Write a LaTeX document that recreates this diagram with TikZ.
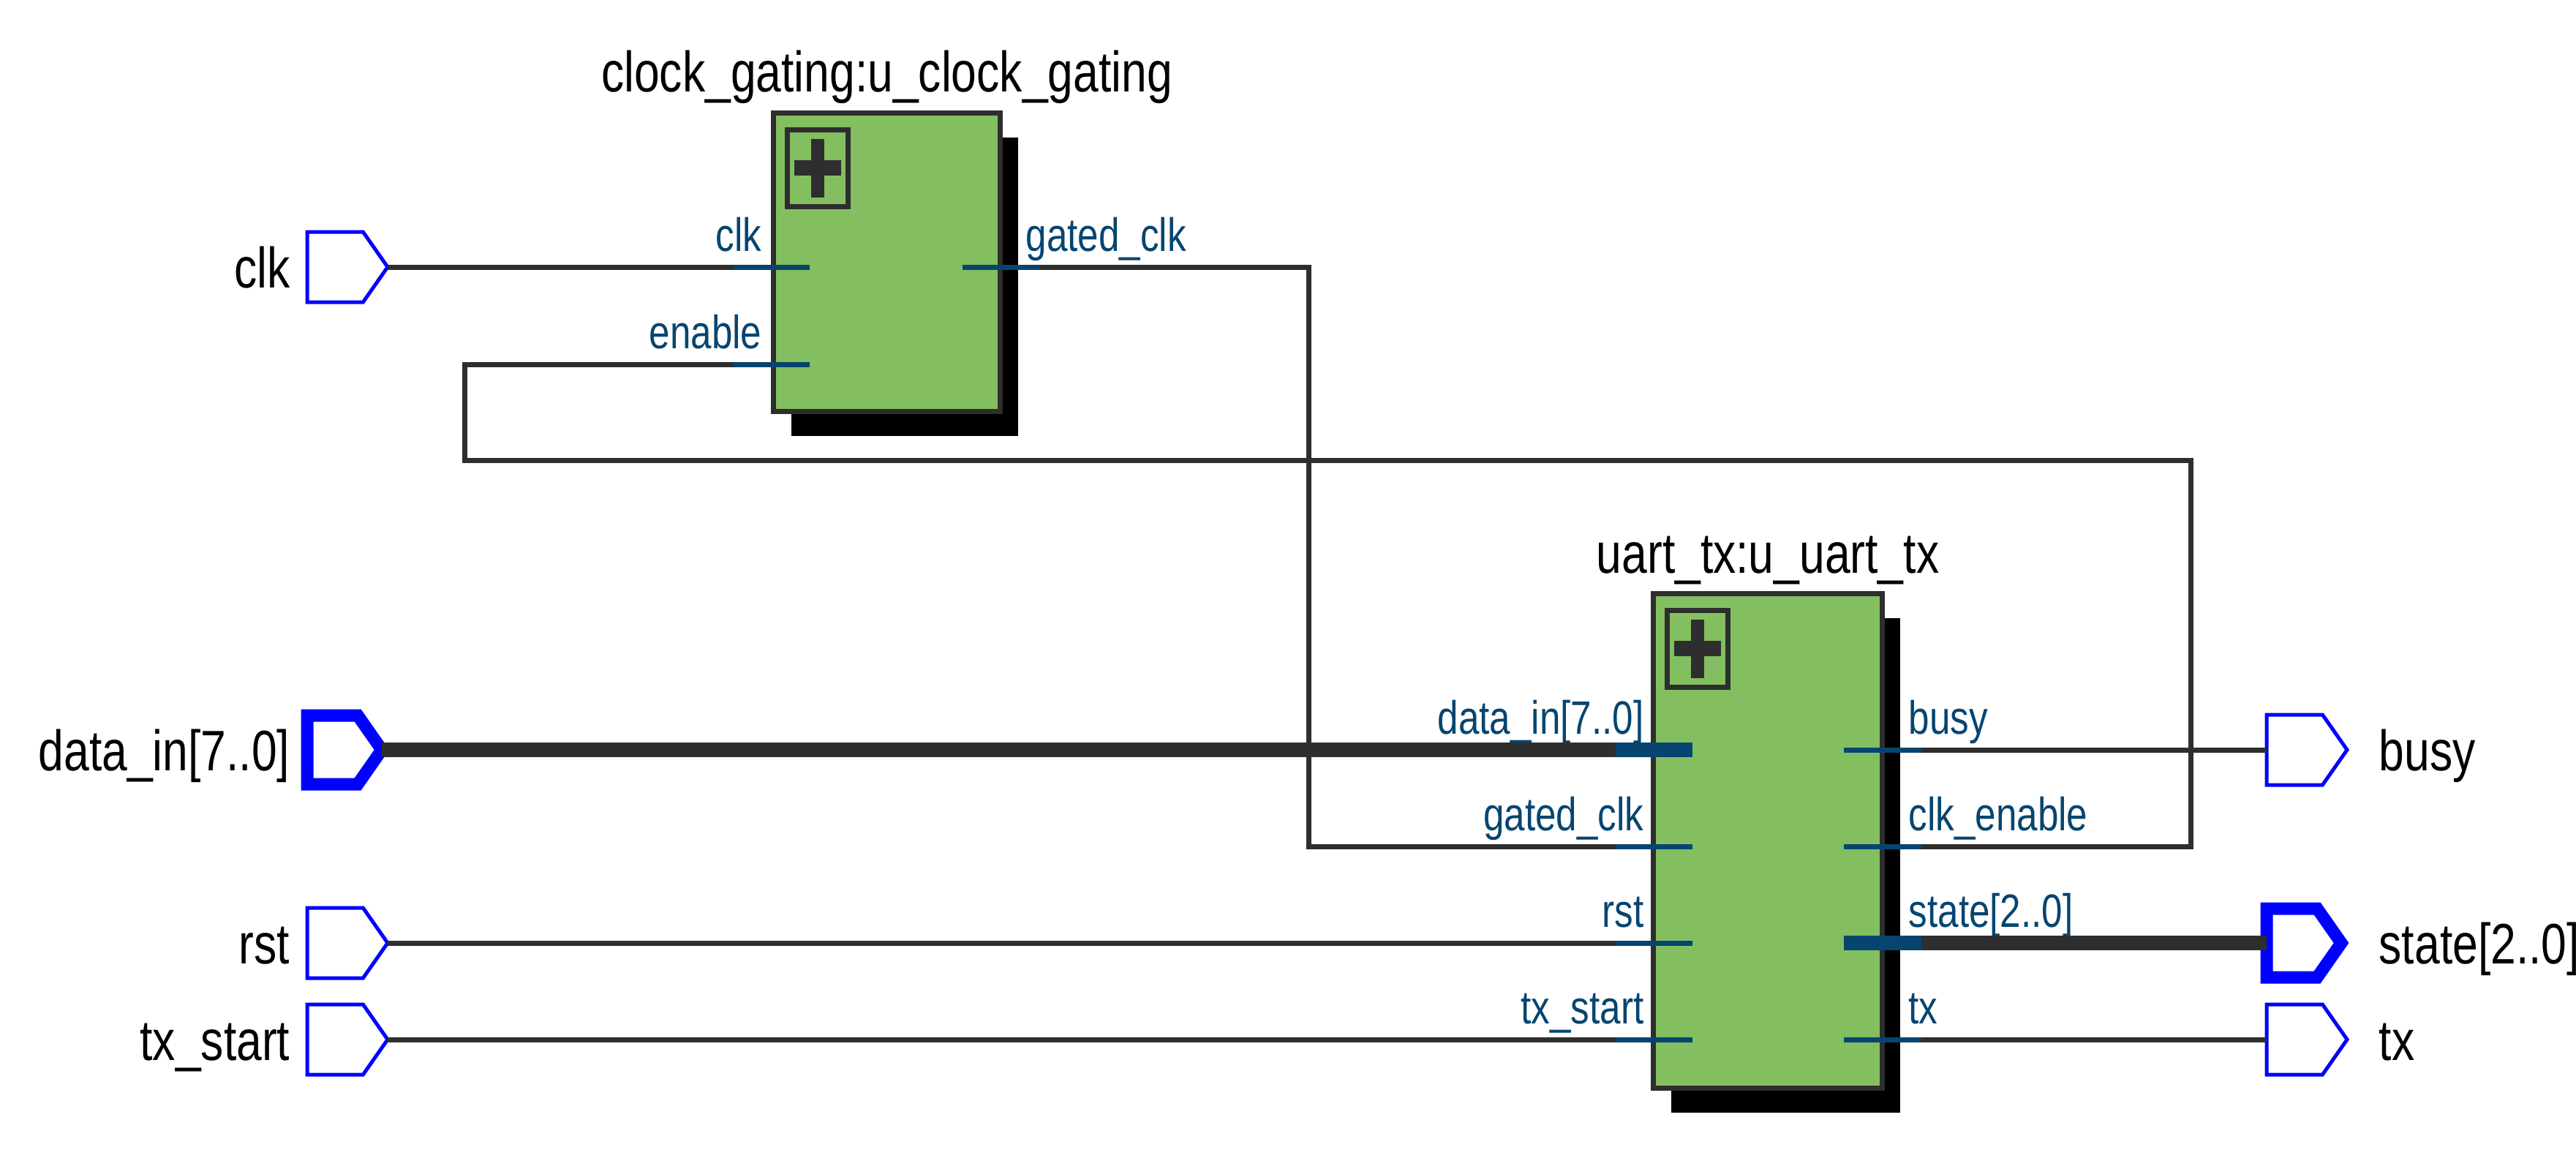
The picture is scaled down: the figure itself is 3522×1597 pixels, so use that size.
\documentclass[tikz,border=0pt]{standalone}
\usepackage{fontspec}
\setmainfont{Liberation Sans}[FakeStretch=0.8]
\usetikzlibrary{shapes.symbols,shadows}

\definecolor{modgreen}{RGB}{131,191,96}
\definecolor{wiregray}{RGB}{46,46,46}
\definecolor{portblue}{RGB}{6,69,112}
\definecolor{pinblue}{RGB}{0,0,255}

\newcommand{\portfont}{\fontsize{18.2}{20}\selectfont}
\newcommand{\pinfont}{\fontsize{22.2}{24}\selectfont}

\tikzset{
  module/.style={draw=wiregray, fill=modgreen, line width=0.7mm, inner sep=0pt,
    drop shadow={shadow xshift=2.4mm, shadow yshift=-3.3mm, fill=black, opacity=1}},
  hier/.style={draw=wiregray, line width=0.7mm, minimum width=8.3mm, minimum height=10.5mm,
    inner sep=0pt, anchor=north west},
  iopin/.style={signal, signal to=east, signal from=nowhere, signal pointer angle=110,
    draw=pinblue, fill=white, line width=0.5mm,
    minimum width=11mm, minimum height=9.6mm, inner sep=0pt, outer sep=0pt, anchor=west},
  buspin/.style={iopin, line width=1.7mm, minimum width=10.2mm, minimum height=9.4mm},
  wire/.style={draw=wiregray, line width=0.7mm},
  bus/.style={draw=wiregray, line width=2mm},
  stub/.style={draw=portblue, line width=0.7mm},
  busstub/.style={draw=portblue, line width=2mm},
  portl/.style={text=portblue, font=\portfont, inner sep=0pt, anchor=base east},
  portr/.style={text=portblue, font=\portfont, inner sep=0pt, anchor=base west},
  pinl/.style={font=\pinfont, inner sep=0pt, anchor=base east},
  pinr/.style={font=\pinfont, inner sep=0pt, anchor=base west},
  modtitle/.style={font=\pinfont, inner sep=0pt, anchor=base}
}

\begin{document}
\begin{tikzpicture}[x=0.1mm, y=-0.1mm]
\useasboundingbox (0,0) rectangle (3522,1597);

% sub-modules
\node[module, minimum width=31mm, minimum height=40.8mm] (cg) at (1212.5,358.5) {};
\node[module, minimum width=31.3mm, minimum height=67.6mm] (ut) at (2417,1149.5) {};
\node[modtitle] (cgtitle) at (1212.5,125) {clock\_gating:u\_clock\_gating};
\node[modtitle] (uttitle) at (2417,783) {uart\_tx:u\_uart\_tx};

% hierarchy marks
\node[hier] (cgicon) at (1072.5,173.5) {};
\fill[wiregray] (cgicon.center) ++(-9,-40) rectangle ++(18,80);
\fill[wiregray] (cgicon.center) ++(-32,-10.5) rectangle ++(64,21);
\node[hier] (uticon) at (2275.5,830.5) {};
\fill[wiregray] (uticon.center) ++(-9,-40) rectangle ++(18,80);
\fill[wiregray] (uticon.center) ++(-32,-10.5) rectangle ++(64,21);

% clock_gating ports
\draw[stub] (1003,365) coordinate (cgclk) -- (1107,365);
\draw[stub] (1003,498) coordinate (cgen) -- (1107,498);
\draw[stub] (1316,365) -- (1421,365) coordinate (cggclk);
\node[portl] (cgclklbl) at (1042,343) {clk};
\node[portl] (cgenlbl) at (1042,476) {enable};
\node[portr] (cggclklbl) at (1402,343) {gated\_clk};

% uart_tx ports
\draw[busstub] (2209,1025) coordinate (utdata) -- (2314,1025);
\draw[stub] (2209,1157) coordinate (utgclk) -- (2314,1157);
\draw[stub] (2209,1289) coordinate (utrst) -- (2314,1289);
\draw[stub] (2209,1421) coordinate (utstart) -- (2314,1421);
\draw[stub] (2521,1025) -- (2627,1025) coordinate (utbusy);
\draw[stub] (2521,1157) -- (2627,1157) coordinate (utcken);
\draw[busstub] (2521,1289) -- (2627,1289) coordinate (utstate);
\draw[stub] (2521,1421) -- (2627,1421) coordinate (uttx);
\node[portl] (utdatalbl) at (2248,1003) {data\_in[7..0]};
\node[portl] (utgclklbl) at (2248,1135) {gated\_clk};
\node[portl] (utrstlbl) at (2248,1267) {rst};
\node[portl] (utstartlbl) at (2248,1399) {tx\_start};
\node[portr] (utbusylbl) at (2609,1003) {busy};
\node[portr] (utckenlbl) at (2609,1135) {clk\_enable};
\node[portr] (utstatelbl) at (2609,1267) {state[2..0]};
\node[portr] (uttxlbl) at (2609,1399) {tx};

% top-level pins
\node[iopin] (clkpin) at (420,365) {};
\node[buspin] (datapin) at (420,1025) {};
\node[iopin] (rstpin) at (420,1289) {};
\node[iopin] (startpin) at (420,1421) {};
\node[iopin] (busypin) at (3099,1025) {};
\node[buspin] (statepin) at (3099,1289) {};
\node[iopin] (txpin) at (3099,1421) {};
\node[pinl] (clklbl) at (397,393) {clk};
\node[pinl] (datalbl) at (397,1053) {data\_in[7..0]};
\node[pinl] (rstlbl) at (397,1317) {rst};
\node[pinl] (startlbl) at (397,1449) {tx\_start};
\node[pinr] (busylbl) at (3252,1053) {busy};
\node[pinr] (statelbl) at (3252,1317) {state[2..0]};
\node[pinr] (txlbl) at (3252,1449) {tx};

% nets
\draw[wire] (clkpin.east) -- (cgclk);
\draw[wire] (cggclk) -- ++(368,0) |- (utgclk);
\draw[wire] (cgen) -| (635,629) -| (2995,1157) -- (utcken);
\draw[bus] (datapin.east) -- (utdata);
\draw[wire] (rstpin.east) -- (utrst);
\draw[wire] (startpin.east) -- (utstart);
\draw[wire] (utbusy) -- (busypin.west);
\draw[bus] (utstate) -- (statepin.west);
\draw[wire] (uttx) -- (txpin.west);
\end{tikzpicture}
\end{document}
